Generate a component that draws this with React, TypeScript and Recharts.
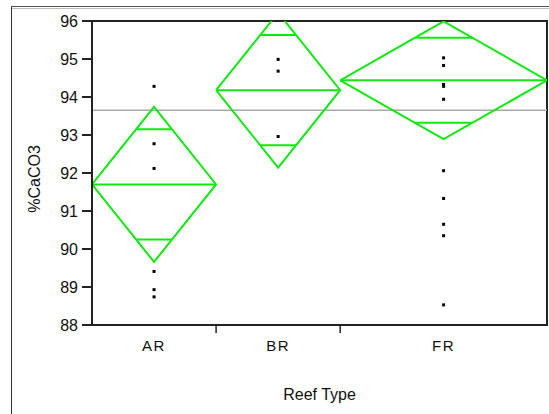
import React from 'react';
import {
  ComposedChart,
  Line,
  Scatter,
  XAxis,
  YAxis,
  ReferenceLine,
  ReferenceArea,
} from 'recharts';

// Groups along the x axis; widths are proportional to group size
const reefTypes = ['AR', 'BR', 'FR'];
const groupSizes = [6, 6, 10];

// Means diamonds: group mean, 95% CI half-width, overlap-mark offset
const groupMeans = [91.7, 94.18, 94.44];
const ciHalfWidths = [2.04, 2.04, 1.55];
const overlapOffsets = [1.45, 1.45, 1.12];
const grandMean = 93.65;

// Observations per reef type (%CaCO3)
const arValues = [94.28, 92.77, 92.12, 89.41, 88.93, 88.74];
const brValues = [94.99, 94.68, 92.96];
const frValues = [95.03, 94.83, 94.33, 94.28, 93.94, 92.06, 91.33, 90.65, 90.35, 88.53];

const yTicks = [88, 89, 90, 91, 92, 93, 94, 95, 96];

const FONT = '"Liberation Sans", Arial, sans-serif';
const GREEN = '#11e811';

// Cumulative group extents on the x axis
const starts: number[] = [];
const ends: number[] = [];
groupSizes.reduce((acc, n) => {
  starts.push(acc);
  ends.push(acc + n);
  return acc + n;
}, 0);
const centers = starts.map((s, i) => (s + ends[i]) / 2);
const total = ends[ends.length - 1];
const xTicks = [...centers, ...ends.slice(0, -1)].sort((a, b) => a - b);
const dividers = new Set(ends.slice(0, -1));

type Pt = { x: number; y: number };
const segments: Pt[][] = [];
reefTypes.forEach((_, i) => {
  const x0 = starts[i];
  const x1 = ends[i];
  const c = centers[i];
  const m = groupMeans[i];
  const h = ciHalfWidths[i];
  const o = overlapOffsets[i];
  segments.push([
    { x: x0, y: m },
    { x: c, y: m + h },
    { x: x1, y: m },
    { x: c, y: m - h },
    { x: x0, y: m },
  ]);
  segments.push([
    { x: x0, y: m },
    { x: x1, y: m },
  ]);
  const hw = ((x1 - x0) / 2) * (1 - o / h);
  segments.push([
    { x: c - hw, y: m + o },
    { x: c + hw, y: m + o },
  ]);
  segments.push([
    { x: c - hw, y: m - o },
    { x: c + hw, y: m - o },
  ]);
});

const observations: Pt[] = [
  ...arValues.map((y) => ({ x: centers[0], y })),
  ...brValues.map((y) => ({ x: centers[1], y })),
  ...frValues.map((y) => ({ x: centers[2], y })),
];

const XTick = (props: any) => {
  const { x, y, payload } = props;
  const v = payload.value;
  if (dividers.has(v)) {
    return <line x1={x} y1={y} x2={x} y2={y + 8} stroke="#222" strokeWidth={1.5} />;
  }
  const idx = centers.indexOf(v);
  return (
    <text
      x={x}
      y={y + 26}
      textAnchor="middle"
      fontFamily={FONT}
      fontSize={15}
      letterSpacing={1.5}
      fill="#111"
    >
      {reefTypes[idx]}
    </text>
  );
};

const YLabel = (props: any) => {
  const vb = props.viewBox || { x: 0, y: 21, width: 92, height: 304 };
  const cx = vb.x + 34;
  const cy = vb.y + vb.height / 2 + 6;
  return (
    <text
      x={cx}
      y={cy}
      transform={`rotate(-90, ${cx}, ${cy})`}
      textAnchor="middle"
      dominantBaseline="central"
      fontFamily={FONT}
      fontSize={16}
      fill="#111"
    >
      %CaCO3
    </text>
  );
};

const Dot = (props: any) => {
  const { cx, cy } = props;
  return <rect x={cx - 1.5} y={cy - 1.5} width={3} height={3} fill="#000" />;
};

export default function App() {
  return (
    <div
      style={{
        position: 'absolute',
        left: 0,
        top: 0,
        width: 549,
        height: 414,
        background: '#fff',
        overflow: 'hidden',
      }}
    >
      <div
        style={{
          position: 'absolute',
          left: 11,
          top: 6,
          width: 700,
          height: 600,
          borderLeft: '1.5px solid #333',
          borderTop: '1px solid #555',
        }}
      />
      <div
        style={{
          position: 'absolute',
          left: 12,
          top: 8,
          width: 700,
          height: 1,
          background: '#bbb',
        }}
      />
      <div style={{ position: 'absolute', left: 0, top: 0 }}>
        <ComposedChart
          width={549}
          height={414}
          margin={{ top: 21, right: 2, left: 0, bottom: 0 }}
          style={{ fontFamily: FONT }}
        >
          <XAxis
            dataKey="x"
            type="number"
            domain={[0, total]}
            allowDataOverflow
            ticks={xTicks}
            interval={0}
            height={89}
            tickLine={false}
            tickSize={0}
            tickMargin={0}
            axisLine={{ stroke: '#222', strokeWidth: 2 }}
            tick={<XTick />}
            label={{
              value: 'Reef Type',
              position: 'insideBottom',
              offset: 14,
              fontSize: 16,
              fill: '#111',
              fontFamily: FONT,
            }}
          />
          <YAxis
            dataKey="y"
            type="number"
            domain={[88, 96]}
            allowDataOverflow
            ticks={yTicks}
            interval={0}
            width={92}
            tickSize={10}
            tickMargin={4}
            axisLine={{ stroke: '#222', strokeWidth: 2 }}
            tickLine={{ stroke: '#222', strokeWidth: 2 }}
            tick={{ fill: '#111', fontSize: 16, fontFamily: FONT }}
            label={<YLabel />}
          />
          <ReferenceArea
            x1={0}
            x2={total}
            y1={88}
            y2={96}
            fill="none"
            stroke="#222"
            strokeWidth={2}
            fillOpacity={0}
          />
          <ReferenceLine y={grandMean} stroke="#a8a8a8" strokeWidth={1.5} />
          {segments.map((seg, i) => (
            <Line
              key={i}
              data={seg}
              dataKey="y"
              type="linear"
              stroke={GREEN}
              strokeWidth={2}
              dot={false}
              activeDot={false}
              isAnimationActive={false}
              legendType="none"
            />
          ))}
          <Scatter
            data={observations}
            dataKey="y"
            shape={<Dot />}
            isAnimationActive={false}
            legendType="none"
          />
        </ComposedChart>
      </div>
    </div>
  );
}
